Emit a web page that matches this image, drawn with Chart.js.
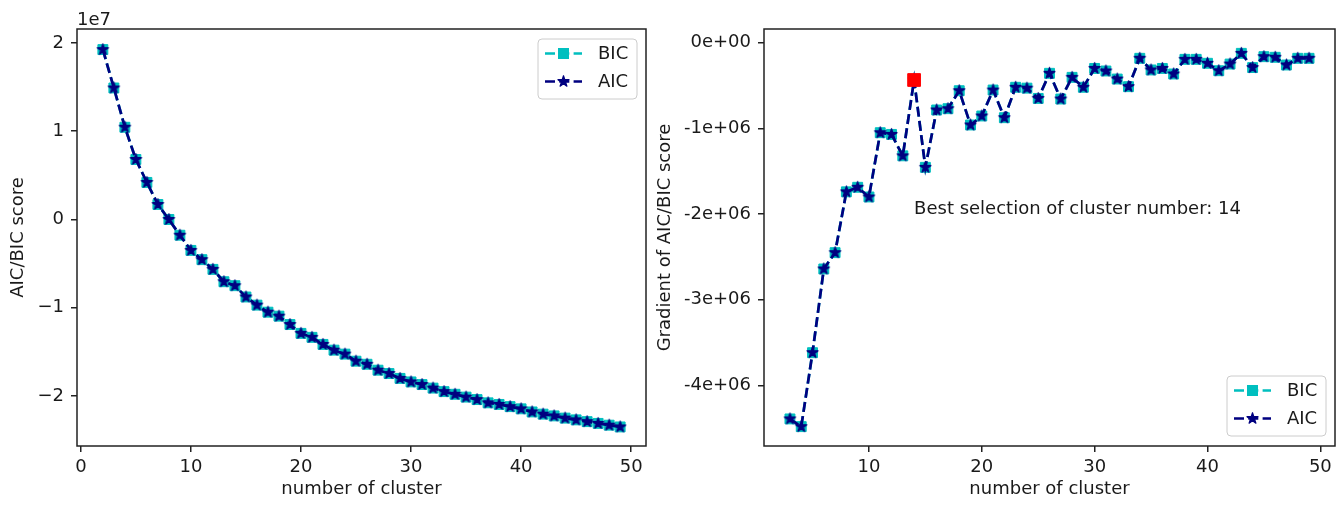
<!DOCTYPE html>
<html>
<head>
<meta charset="utf-8">
<script src="https://cdn.jsdelivr.net/npm/chart.js@4.4.1/dist/chart.umd.min.js"></script>
<style>
  html, body { margin: 0; padding: 0; background: #fff; }
  #wrap { position: relative; width: 1341px; height: 505px; overflow: hidden; }
  #scoreChart { position: absolute; left: 0; top: 0; }
  #gradChart { position: absolute; left: 650px; top: 0; }
</style>
</head>
<body>
<div id="wrap">
  <canvas id="scoreChart" width="650" height="505"></canvas>
  <canvas id="gradChart" width="691" height="505"></canvas>
</div>
<script>
// ---- data -------------------------------------------------------------
const clusters = [2, 3, 4, 5, 6, 7, 8, 9, 10, 11, 12, 13, 14, 15, 16, 17, 18, 19, 20, 21, 22, 23, 24, 25,
  26, 27, 28, 29, 30, 31, 32, 33, 34, 35, 36, 37, 38, 39, 40, 41, 42, 43, 44, 45, 46, 47, 48, 49];

const bicScore = [1.925e7, 1.49e7, 1.045e7, 0.68e7, 0.42e7, 0.17e7, 0.0, -0.178e7, -0.35e7, -0.455e7,
  -0.565e7, -0.705e7, -0.75e7, -0.878e7, -0.97e7, -1.05e7, -1.095e7, -1.19e7, -1.29e7, -1.335e7,
  -1.415e7, -1.48e7, -1.525e7, -1.605e7, -1.64e7, -1.707e7, -1.745e7, -1.80e7, -1.84e7, -1.87e7,
  -1.91e7, -1.95e7, -1.98e7, -2.012e7, -2.04e7, -2.077e7, -2.095e7, -2.12e7, -2.145e7, -2.18e7,
  -2.205e7, -2.225e7, -2.25e7, -2.27e7, -2.29e7, -2.31e7, -2.33e7, -2.35e7];

const aicScore = [1.925e7, 1.49e7, 1.045e7, 0.68e7, 0.42e7, 0.17e7, 0.0, -0.178e7, -0.35e7, -0.455e7,
  -0.565e7, -0.705e7, -0.75e7, -0.878e7, -0.97e7, -1.05e7, -1.095e7, -1.19e7, -1.29e7, -1.335e7,
  -1.415e7, -1.48e7, -1.525e7, -1.605e7, -1.64e7, -1.707e7, -1.745e7, -1.80e7, -1.84e7, -1.87e7,
  -1.91e7, -1.95e7, -1.98e7, -2.012e7, -2.04e7, -2.077e7, -2.095e7, -2.12e7, -2.145e7, -2.18e7,
  -2.205e7, -2.225e7, -2.25e7, -2.27e7, -2.29e7, -2.31e7, -2.33e7, -2.35e7];

const gradClusters = [3, 4, 5, 6, 7, 8, 9, 10, 11, 12, 13, 14, 15, 16, 17, 18, 19, 20, 21, 22, 23, 24, 25,
  26, 27, 28, 29, 30, 31, 32, 33, 34, 35, 36, 37, 38, 39, 40, 41, 42, 43, 44, 45, 46, 47, 48, 49];

const bicGradient = [-4.39e6, -4.48e6, -3.617e6, -2.64e6, -2.45e6, -1.74e6, -1.687e6, -1.80e6,
  -1.05e6, -1.07e6, -1.32e6, -0.435e6, -1.454e6, -0.785e6, -0.77e6, -0.56e6, -0.96e6, -0.855e6,
  -0.552e6, -0.875e6, -0.52e6, -0.53e6, -0.65e6, -0.357e6, -0.657e6, -0.404e6, -0.52e6, -0.30e6,
  -0.33e6, -0.424e6, -0.513e6, -0.182e6, -0.318e6, -0.30e6, -0.365e6, -0.194e6, -0.194e6, -0.24e6,
  -0.327e6, -0.249e6, -0.124e6, -0.29e6, -0.163e6, -0.17e6, -0.26e6, -0.182e6, -0.182e6];

const aicGradient = [-4.39e6, -4.48e6, -3.617e6, -2.64e6, -2.45e6, -1.74e6, -1.687e6, -1.80e6,
  -1.05e6, -1.07e6, -1.32e6, -0.435e6, -1.454e6, -0.785e6, -0.77e6, -0.56e6, -0.96e6, -0.855e6,
  -0.552e6, -0.875e6, -0.52e6, -0.53e6, -0.65e6, -0.357e6, -0.657e6, -0.404e6, -0.52e6, -0.30e6,
  -0.33e6, -0.424e6, -0.513e6, -0.182e6, -0.318e6, -0.30e6, -0.365e6, -0.194e6, -0.194e6, -0.24e6,
  -0.327e6, -0.249e6, -0.124e6, -0.29e6, -0.163e6, -0.17e6, -0.26e6, -0.182e6, -0.182e6];

const bestCluster = [14];
const bestGradient = [-0.435e6];

const scoreXTicks = [0, 10, 20, 30, 40, 50];
const scoreYTicks = [-2e7, -1e7, 0, 1e7, 2e7];
const scoreYTickLabels = ['\u22122', '\u22121', '0', '1', '2'];

const gradXTicks = [10, 20, 30, 40, 50];
const gradYTicks = [-4e6, -3e6, -2e6, -1e6, 0];
const gradYTickLabels = ['-4e+06', '-3e+06', '-2e+06', '-1e+06', '0e+00'];

// ---- style ------------------------------------------------------------
const FONT = { family: '"DejaVu Sans", sans-serif', size: 18 };
const FONT_CSS = '18px "DejaVu Sans", sans-serif';
const TEXT_COLOR = '#1a1a1a';
const AXIS_COLOR = '#222';
const BIC_COLOR = '#00bfbf';
const AIC_COLOR = '#000080';
const BEST_COLOR = '#ff0000';
const DASH = [10, 4.3];
const LINE_W = 2.7;

// filled five-pointed star used as the AIC marker
function starImage(outer, color) {
  const inner = outer * 0.381966;
  const size = Math.ceil(outer * 2 + 3);
  const c = document.createElement('canvas');
  c.width = size; c.height = size;
  const g = c.getContext('2d');
  const cx = size / 2, cy = size / 2;
  g.beginPath();
  for (let i = 0; i < 10; i++) {
    const r = i % 2 === 0 ? outer : inner;
    const a = -Math.PI / 2 + i * Math.PI / 5;
    const px = cx + r * Math.cos(a), py = cy + r * Math.sin(a);
    if (i === 0) g.moveTo(px, py); else g.lineTo(px, py);
  }
  g.closePath();
  g.fillStyle = color;
  g.fill();
  g.lineWidth = 1.2;
  g.lineJoin = 'round';
  g.strokeStyle = color;
  g.stroke();
  return c;
}
const STAR = starImage(5.8, AIC_COLOR);

// axes frame, legend box and free text
const decorations = {
  id: 'decorations',
  afterDatasetsDraw(chart, args, opts) {
    const { ctx, chartArea: a } = chart;
    ctx.save();
    ctx.strokeStyle = AXIS_COLOR;
    ctx.lineWidth = 1.5;
    ctx.setLineDash([]);
    ctx.strokeRect(a.left, a.top, a.right - a.left, a.bottom - a.top);

    ctx.fillStyle = TEXT_COLOR;
    ctx.font = FONT_CSS;
    if (opts.offsetText) {
      ctx.textAlign = 'left';
      ctx.textBaseline = 'alphabetic';
      ctx.fillText(opts.offsetText, a.left, a.top - 4);
    }
    (opts.notes || []).forEach(n => {
      ctx.textAlign = 'left';
      ctx.textBaseline = 'alphabetic';
      ctx.fillText(n.text, chart.scales.x.getPixelForValue(n.x), chart.scales.y.getPixelForValue(n.y));
    });

    if (opts.legend) {
      const w = 99, h = 60;
      const bx = a.right - 9 - w;
      const by = opts.legend === 'upper right' ? a.top + 10 : a.bottom - 10 - h;
      ctx.beginPath();
      ctx.roundRect(bx, by, w, h, 4);
      ctx.fillStyle = 'rgba(255,255,255,0.85)';
      ctx.fill();
      ctx.strokeStyle = '#cccccc';
      ctx.lineWidth = 1;
      ctx.stroke();
      const entries = [
        { label: 'BIC', color: BIC_COLOR, marker: 'square' },
        { label: 'AIC', color: AIC_COLOR, marker: 'star' }
      ];
      entries.forEach((e, i) => {
        const cy = by + 14.5 + i * 28;
        const x0 = bx + 7, x1 = bx + 44;
        ctx.beginPath();
        ctx.setLineDash(DASH);
        ctx.lineWidth = LINE_W;
        ctx.strokeStyle = e.color;
        ctx.moveTo(x0, cy);
        ctx.lineTo(x1, cy);
        ctx.stroke();
        ctx.setLineDash([]);
        const mx = (x0 + x1) / 2;
        if (e.marker === 'square') {
          ctx.fillStyle = e.color;
          ctx.fillRect(mx - 5.5, cy - 5.5, 11, 11);
        } else {
          ctx.drawImage(STAR, mx - STAR.width / 2, cy - STAR.height / 2);
        }
        ctx.fillStyle = TEXT_COLOR;
        ctx.font = FONT_CSS;
        ctx.textAlign = 'left';
        ctx.textBaseline = 'middle';
        ctx.fillText(e.label, bx + 60, cy + 1);
      });
    }
    ctx.restore();
  }
};

function points(xs, ys) {
  return xs.map((x, i) => ({ x: x, y: ys[i] }));
}

function bicDataset(data) {
  return {
    label: 'BIC', data: data, order: 2,
    borderColor: BIC_COLOR, borderWidth: LINE_W, borderDash: DASH, tension: 0,
    pointStyle: 'rect', pointRadius: 7, pointBorderWidth: 1,
    pointBackgroundColor: BIC_COLOR, pointBorderColor: BIC_COLOR
  };
}
function aicDataset(data) {
  return {
    label: 'AIC', data: data, order: 1,
    borderColor: AIC_COLOR, borderWidth: LINE_W, borderDash: DASH, tension: 0,
    pointStyle: STAR, pointRadius: 6,
    pointBackgroundColor: AIC_COLOR, pointBorderColor: AIC_COLOR
  };
}

function xAxis(min, max, ticks) {
  return {
    type: 'linear', min: min, max: max,
    afterBuildTicks(s) { s.ticks = ticks.map(v => ({ value: v })); },
    afterFit(s) { s.height = 59; s.paddingLeft = 0; s.paddingRight = 0; },
    grid: { drawOnChartArea: false, drawTicks: true, tickLength: 6, color: AXIS_COLOR, lineWidth: 1.5 },
    border: { display: false },
    ticks: { font: FONT, color: TEXT_COLOR, padding: 5, maxRotation: 0, autoSkip: false,
      callback: v => String(v) },
    title: { display: true, text: 'number of cluster', font: FONT, color: TEXT_COLOR,
      padding: { top: 0, bottom: 5 } }
  };
}
function yAxis(min, max, ticks, labels, width, title, titlePad) {
  return {
    type: 'linear', min: min, max: max,
    afterBuildTicks(s) { s.ticks = ticks.map(v => ({ value: v })); },
    afterFit(s) { s.width = width; s.paddingTop = 0; s.paddingBottom = 0; },
    grid: { drawOnChartArea: false, drawTicks: true, tickLength: 6, color: AXIS_COLOR, lineWidth: 1.5 },
    border: { display: false },
    ticks: { font: FONT, color: TEXT_COLOR, padding: 7, autoSkip: false,
      callback: (v, i) => labels[i] },
    title: { display: true, text: title, font: FONT, color: TEXT_COLOR,
      padding: { top: titlePad, bottom: 0 } }
  };
}

const common = {
  responsive: false,
  animation: false,
  devicePixelRatio: 1,
  events: []
};

// left: AIC/BIC score against number of clusters
new Chart(document.getElementById('scoreChart'), {
  type: 'line',
  data: {
    datasets: [
      bicDataset(points(clusters, bicScore)),
      aicDataset(points(clusters, aicScore))
    ]
  },
  options: Object.assign({}, common, {
    layout: { autoPadding: false, padding: { top: 29, right: 4, left: 0, bottom: 0 } },
    scales: {
      x: xAxis(-0.35, 51.35, scoreXTicks),
      y: yAxis(-2.566e7, 2.158e7, scoreYTicks, scoreYTickLabels, 77, 'AIC/BIC score', 8)
    },
    plugins: {
      legend: { display: false },
      tooltip: { enabled: false },
      decorations: { legend: 'upper right', offsetText: '1e7' }
    }
  }),
  plugins: [decorations]
});

// right: gradient of the score, best cluster count highlighted
new Chart(document.getElementById('gradChart'), {
  type: 'line',
  data: {
    datasets: [
      {
        label: 'best', data: points(bestCluster, bestGradient), order: 0, showLine: false,
        pointStyle: 'rect', pointRadius: 9, pointBorderWidth: 1,
        pointBackgroundColor: BEST_COLOR, pointBorderColor: BEST_COLOR
      },
      bicDataset(points(gradClusters, bicGradient)),
      aicDataset(points(gradClusters, aicGradient))
    ]
  },
  options: Object.assign({}, common, {
    layout: { autoPadding: false, padding: { top: 29, right: 6, left: 0, bottom: 0 } },
    scales: {
      x: xAxis(0.7, 51.3, gradXTicks),
      y: yAxis(-4.706e6, 0.16e6, gradYTicks, gradYTickLabels, 114, 'Gradient of AIC/BIC score', 5)
    },
    plugins: {
      legend: { display: false },
      tooltip: { enabled: false },
      decorations: {
        legend: 'lower right',
        notes: [{ text: 'Best selection of cluster number: 14', x: 14, y: -2e6 }]
      }
    }
  }),
  plugins: [decorations]
});
</script>
</body>
</html>
